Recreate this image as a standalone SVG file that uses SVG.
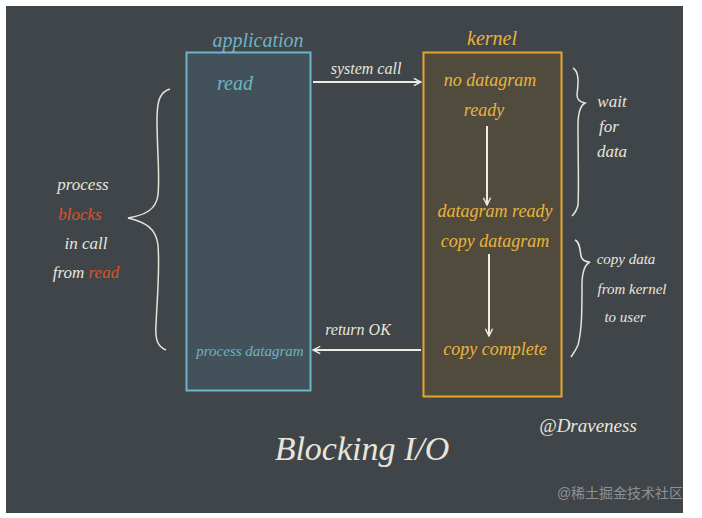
<svg xmlns="http://www.w3.org/2000/svg" width="702" height="518" viewBox="0 0 702 518">
<defs>
<style>
.hw{font-family:"Liberation Serif","DejaVu Serif",serif;font-style:italic}
.w{fill:#e8e6dc}
.o{fill:#e9b43c}
.t{fill:#6fb3c4}
.r{fill:#d9552a}
.ln{stroke:#ecebe4;stroke-width:2;fill:none}
.br{stroke:#e6e4da;stroke-width:1.5;fill:none}
</style>
<marker id="ah" viewBox="0 0 10 10" refX="9" refY="5" markerWidth="9" markerHeight="9" markerUnits="userSpaceOnUse" orient="auto">
<path d="M1,1 L9,5 L1,9" fill="none" stroke="#ecebe4" stroke-width="1.6"/>
</marker>
</defs>
<rect x="0" y="0" width="702" height="518" fill="#ffffff"/>
<rect x="6" y="6" width="677" height="507" fill="#40454a"/>

<g id="application">
<rect x="186.5" y="52.5" width="124" height="338" fill="#43525a" stroke="#6eb4cb" stroke-width="2"/>
<text class="hw t" x="258" y="47" font-size="20" text-anchor="middle">application</text>
<text class="hw t" x="235" y="90" font-size="20" text-anchor="middle">read</text>
<text class="hw t" x="250" y="356" font-size="15" text-anchor="middle">process datagram</text>
</g>

<g id="kernel">
<rect x="423.5" y="52.5" width="138" height="344" fill="#514b3e" stroke="#e7a52b" stroke-width="2"/>
<text class="hw o" x="492" y="45" font-size="20" text-anchor="middle">kernel</text>
<text class="hw o" x="490" y="86" font-size="18" text-anchor="middle">no datagram</text>
<text class="hw o" x="484" y="116" font-size="18" text-anchor="middle">ready</text>
<text class="hw o" x="495" y="217" font-size="18" text-anchor="middle">datagram ready</text>
<text class="hw o" x="495" y="247" font-size="18" text-anchor="middle">copy datagram</text>
<text class="hw o" x="495" y="355" font-size="18" text-anchor="middle">copy complete</text>
</g>

<g id="connectors">
<line class="ln" x1="313" y1="82" x2="421" y2="82" marker-end="url(#ah)"/>
<line class="ln" x1="487" y1="126" x2="487" y2="205" marker-end="url(#ah)"/>
<line class="ln" x1="489" y1="254" x2="489" y2="336" marker-end="url(#ah)"/>
<line class="ln" x1="421" y1="350" x2="313" y2="350" marker-end="url(#ah)"/>
</g>

<g id="labels">
<text class="hw w" x="366" y="74" font-size="16" text-anchor="middle">system call</text>
<text class="hw w" x="358" y="335" font-size="16" text-anchor="middle">return OK</text>
</g>

<g id="left-brace">
<path class="br" d="M170,89 C160,92 157,100 157,120 C157,150 160,175 158,195 C156,210 145,215 128,218 C145,222 156,228 158,245 C160,270 157,300 156,325 C155,340 158,347 166,350"/>
<text class="hw w" x="83" y="190" font-size="17" text-anchor="middle">process</text>
<text class="hw r" x="80" y="220" font-size="17" text-anchor="middle">blocks</text>
<text class="hw w" x="86" y="249" font-size="17" text-anchor="middle">in call</text>
<text class="hw" x="86" y="278" font-size="17" text-anchor="middle"><tspan class="w">from </tspan><tspan class="r">read</tspan></text>
</g>

<g id="wait-brace">
<path class="br" d="M573,68 C580,72 578,85 577,95 C577,100 580,102 585,103 C580,106 578,112 578,125 C578,160 579,190 578,205 C577,210 575,213 572,216"/>
<text class="hw w" x="612" y="107" font-size="17" text-anchor="middle">wait</text>
<text class="hw w" x="609" y="132" font-size="17" text-anchor="middle">for</text>
<text class="hw w" x="612" y="157" font-size="17" text-anchor="middle">data</text>
</g>

<g id="copy-brace">
<path class="br" d="M575,240 C580,242 580,250 581,256 C582,260 585,262 590,262 C584,265 582,272 582,285 C582,310 582,330 578,345 C576,350 573,354 571,357"/>
<text class="hw w" x="626" y="264" font-size="15" text-anchor="middle">copy data</text>
<text class="hw w" x="632" y="294" font-size="15" text-anchor="middle">from kernel</text>
<text class="hw w" x="625" y="322" font-size="15" text-anchor="middle">to user</text>
</g>

<g id="footer">
<text class="hw w" x="362" y="460" font-size="34" text-anchor="middle">Blocking  I/O</text>
<text class="hw w" x="588" y="432" font-size="19" text-anchor="middle">@Draveness</text>
<text x="620" y="498" font-size="14" fill="#8d9196" text-anchor="middle" font-family="'Liberation Sans','Noto Sans CJK SC',sans-serif">@稀土掘金技术社区</text>
</g>
</svg>
